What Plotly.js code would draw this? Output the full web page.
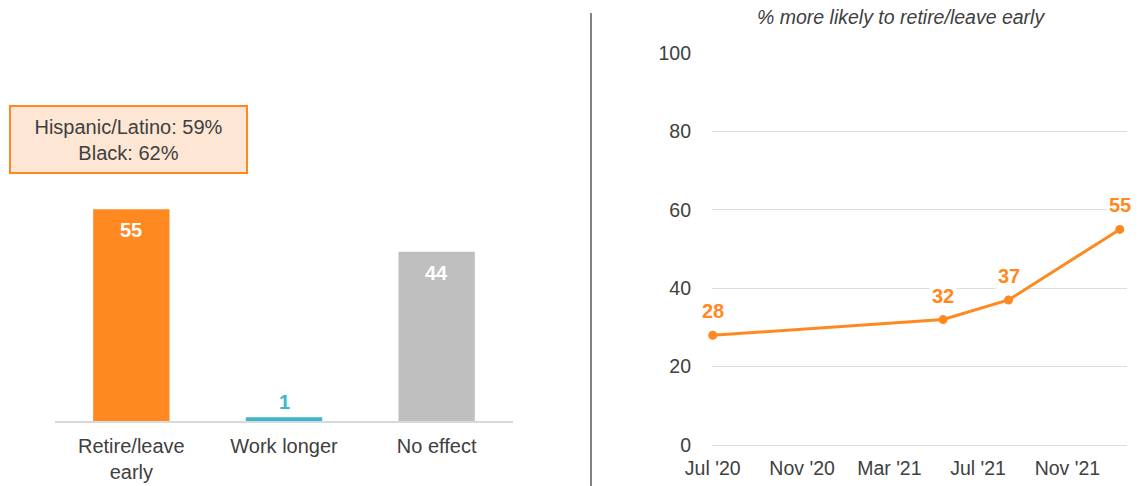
<!DOCTYPE html>
<html>
<head>
<meta charset="utf-8">
<script src="https://cdn.plot.ly/plotly-3.0.1.min.js"></script>
<style>
  html, body { margin: 0; padding: 0; background: #fff; }
  #chart { width: 1144px; height: 486px; }
</style>
</head>
<body>
<div id="chart"></div>
<script>
// ---- data ----
const barCategories = ['Retire/leave<br>early', 'Work longer', 'No effect'];
const barValues = [55, 1, 44];
const barColors = ['#FF8920', '#3DB5CA', '#BFBFBF'];

const lineDates = ['2020-07-01', '2021-05-14', '2021-08-12', '2022-01-12'];
const lineValues = [28, 32, 37, 55];

const calloutLines = ['Hispanic/Latino: 59%', 'Black: 62%'];
const lineTitle = '% more likely to retire/leave early';

// ---- style ----
const FONT = 'Liberation Sans, Arial, sans-serif';
const TXT = '#404040';
const ORANGE = '#FF8920';
const W = 1144, H = 486;
const px = v => v / W;
const py = v => (H - v) / H;

const traces = [
  {
    type: 'bar',
    x: barCategories,
    y: barValues,
    marker: { color: barColors },
    xaxis: 'x', yaxis: 'y',
    hoverinfo: 'skip',
    showlegend: false
  },
  {
    type: 'scatter',
    mode: 'lines+markers',
    x: lineDates,
    y: lineValues,
    line: { color: ORANGE, width: 3 },
    marker: { color: ORANGE, size: 9 },
    cliponaxis: false,
    xaxis: 'x2', yaxis: 'y2',
    hoverinfo: 'skip',
    showlegend: false
  }
];

const annotations = [];
barValues.forEach((v, i) => {
  const inside = v > 10;
  annotations.push({
    xref: 'x', yref: 'y',
    x: barCategories[i], y: v,
    text: '<b>' + v + '</b>',
    showarrow: false,
    yshift: inside ? -21 : 15,
    font: { family: FONT, size: 20, color: inside ? '#FFFFFF' : barColors[i] }
  });
});
lineValues.forEach((v, i) => {
  annotations.push({
    xref: 'x2', yref: 'y2',
    x: lineDates[i], y: v,
    text: '<b>' + v + '</b>',
    showarrow: false,
    yshift: 24,
    bgcolor: '#FFFFFF',
    borderpad: 2,
    font: { family: FONT, size: 20, color: ORANGE }
  });
});
annotations.push({
  xref: 'paper', yref: 'paper',
  x: px(128.5), y: py(139.5),
  xanchor: 'center', yanchor: 'middle',
  text: calloutLines.join('<br>'),
  showarrow: false,
  align: 'center',
  width: 235, height: 65,
  borderpad: 0,
  bgcolor: '#FDE6D4',
  bordercolor: '#FF8920',
  borderwidth: 2,
  font: { family: FONT, size: 20, color: TXT }
});
annotations.push({
  xref: 'paper', yref: 'paper',
  x: px(901), y: py(17),
  xanchor: 'center', yanchor: 'middle',
  text: '<i>' + lineTitle + '</i>',
  showarrow: false,
  font: { family: FONT, size: 19.5, color: TXT }
});

const layout = {
  width: W, height: H,
  margin: { l: 0, r: 0, t: 0, b: 0 },
  paper_bgcolor: '#FFFFFF',
  plot_bgcolor: 'rgba(0,0,0,0)',
  bargap: 0.5,
  font: { family: FONT, size: 20, color: TXT },
  xaxis: {
    domain: [px(55), px(513)],
    anchor: 'y',
    type: 'category',
    range: [-0.5, 2.5],
    showline: true, linecolor: '#D9D9D9', linewidth: 1.5,
    showgrid: false, zeroline: false,
    ticks: '',
    ticklabelstandoff: 6,
    tickfont: { family: FONT, size: 20, color: TXT },
    fixedrange: true
  },
  yaxis: {
    domain: [py(421), py(13)],
    anchor: 'x',
    range: [0, 106],
    visible: false,
    fixedrange: true
  },
  xaxis2: {
    domain: [px(712), px(1127)],
    anchor: 'y2',
    type: 'date',
    range: ['2020-06-30', '2022-01-22'],
    tick0: '2020-07-01',
    dtick: 'M4',
    tickformat: "%b '%y",
    showgrid: false, zeroline: false, showline: false,
    ticks: '',
    ticklabelstandoff: 9,
    tickfont: { family: FONT, size: 19.5, color: TXT },
    fixedrange: true
  },
  yaxis2: {
    domain: [py(445), py(53)],
    anchor: 'x2',
    range: [0, 100],
    dtick: 20,
    showgrid: true, gridcolor: '#DDDDDD', gridwidth: 1,
    zeroline: true, zerolinecolor: '#DDDDDD', zerolinewidth: 1,
    showline: false, ticks: '',
    ticklabelstandoff: 20,
    tickfont: { family: FONT, size: 19.5, color: TXT },
    fixedrange: true
  },
  shapes: [
    {
      type: 'line', xref: 'paper', yref: 'paper',
      x0: px(591), x1: px(591), y0: 0, y1: py(13),
      line: { color: '#595959', width: 1.5 }
    }
  ],
  annotations: annotations
};

Plotly.newPlot('chart', traces, layout, { displayModeBar: false, staticPlot: true });
</script>
</body>
</html>
